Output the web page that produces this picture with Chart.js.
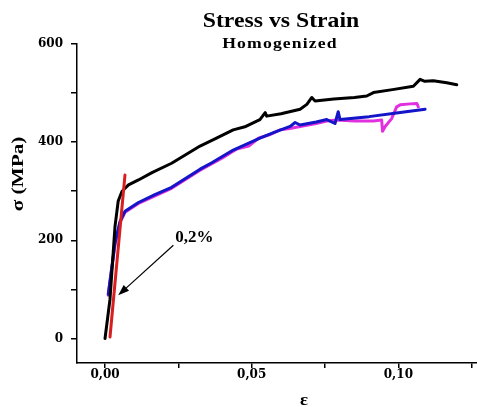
<!DOCTYPE html>
<html>
<head>
<meta charset="utf-8">
<title>Stress vs Strain</title>
<script src="https://cdn.jsdelivr.net/npm/chart.js@4.4.1/dist/chart.umd.min.js"></script>
<style>
    html, body { margin: 0; padding: 0; background: #fff; }
    #stressStrainChart { display: block; }
</style>
</head>
<body>
<canvas id="stressStrainChart" width="477" height="407"></canvas>
<script>
// Curves: strain (ε) and stress (σ, MPa)
const blackStrain = [0, 0.0017, 0.0034, 0.0045, 0.0058, 0.0080, 0.0114, 0.0160, 0.0227, 0.0324, 0.0380, 0.0437, 0.0480, 0.0528, 0.0546, 0.0551, 0.0600, 0.0665, 0.0688, 0.0705, 0.0716, 0.0780, 0.0850, 0.0892, 0.0915, 0.0980, 0.1051, 0.1074, 0.1090, 0.1119, 0.1165, 0.1199];
const blackStress = [0, 80, 228, 280, 300, 313, 323, 338, 357, 392, 408, 425, 432, 446, 460, 453, 458, 467, 477, 491, 484, 488, 491, 494, 501, 507, 514, 528, 524, 525, 521, 517];

const blueStrain = [0.0011, 0.0034, 0.0051, 0.0068, 0.0114, 0.0170, 0.0227, 0.0324, 0.0364, 0.0437, 0.0528, 0.0585, 0.0631, 0.0648, 0.0665, 0.0720, 0.0756, 0.0784, 0.0795, 0.0801, 0.0900, 0.1000, 0.1091];
const blueStress = [90, 194, 238, 259, 277, 293, 308, 345, 358, 384, 408, 422, 432, 440, 435, 441, 446, 438, 462, 446, 452, 460, 467];

const magentaStrain = [0.0011, 0.0034, 0.0051, 0.0068, 0.0114, 0.0227, 0.0324, 0.0400, 0.0449, 0.0490, 0.0523, 0.0560, 0.0597, 0.0630, 0.0665, 0.0720, 0.0756, 0.0790, 0.0850, 0.0915, 0.0943, 0.0946, 0.0955, 0.0977, 0.0994, 0.1006, 0.1040, 0.1063, 0.1068];
const magentaStress = [88, 192, 236, 257, 275, 306, 343, 368, 386, 392, 408, 415, 425, 428, 432, 438, 443, 445, 443, 443, 445, 422, 432, 448, 472, 476, 478, 479, 472];

// 0.2% offset line
const offsetStrain = [0.0017, 0.0068];
const offsetStress = [3, 333];

// Axis ticks and labels
const xTickValues = [0, 0.025, 0.05, 0.075, 0.10, 0.125];
const xTickLabels = ['0,00', '', '0,05', '', '0,10', ''];
const yTickValues = [0, 100, 200, 300, 400, 500, 600];
const yTickLabels = ['0', '', '200', '', '400', '', '600'];

const chartTitle = 'Stress vs Strain';
const chartSubtitle = 'Homogenized';
const xAxisTitle = 'ε';
const yAxisTitle = 'σ (MPa)';
const offsetNote = '0,2%';

const toPoints = (xs, ys) => xs.map((x, i) => ({ x: x, y: ys[i] }));

const serif = '"Liberation Serif", "Times New Roman", serif';
const tickFont = { family: '"DejaVu Serif", serif', size: 12, weight: 'bold' };

// Draw text squeezed/stretched horizontally (the original figure is widened)
function stretchedText(ctx, text, x, y, sx, align) {
    ctx.save();
    ctx.translate(x, y);
    ctx.scale(sx, 1);
    ctx.textAlign = align;
    ctx.fillText(text, 0, 0);
    ctx.restore();
}

const textPlugin = {
    id: 'figureText',
    afterDraw: function(chart) {
        const ctx = chart.ctx;
        const xs = chart.scales.x;
        const ys = chart.scales.y;
        ctx.save();
        ctx.fillStyle = '#000';
        ctx.textBaseline = 'alphabetic';

        // Titles
        ctx.font = 'bold 21px ' + serif;
        stretchedText(ctx, chartTitle, 281, 27, 1.13, 'center');
        ctx.font = 'bold 15.5px ' + serif;
        ctx.letterSpacing = '1px';
        stretchedText(ctx, chartSubtitle, 280, 47.5, 1.14, 'center');
        ctx.letterSpacing = '0px';

        // Axis titles
        ctx.font = 'bold 17px ' + serif;
        stretchedText(ctx, xAxisTitle, 304, 405, 1.1, 'center');
        ctx.save();
        ctx.translate(19, 174);
        ctx.rotate(-Math.PI / 2);
        ctx.scale(1.25, 1);
        ctx.textAlign = 'center';
        ctx.textBaseline = 'middle';
        ctx.fillText(yAxisTitle, 0, 0);
        ctx.restore();

        // 0,2% note with arrow
        ctx.font = 'bold 17px ' + serif;
        ctx.textAlign = 'left';
        ctx.fillText(offsetNote, xs.getPixelForValue(0.0239), ys.getPixelForValue(197));

        const tx = xs.getPixelForValue(0.0233), ty = ys.getPixelForValue(190);
        const hx = xs.getPixelForValue(0.0045), hy = ys.getPixelForValue(88);
        const ang = Math.atan2(hy - ty, hx - tx);
        ctx.strokeStyle = '#000';
        ctx.lineWidth = 1.2;
        ctx.beginPath();
        ctx.moveTo(tx, ty);
        ctx.lineTo(hx - 8 * Math.cos(ang), hy - 8 * Math.sin(ang));
        ctx.stroke();
        ctx.beginPath();
        ctx.moveTo(hx, hy);
        ctx.lineTo(hx - 11 * Math.cos(ang) + 4 * Math.sin(ang), hy - 11 * Math.sin(ang) - 4 * Math.cos(ang));
        ctx.lineTo(hx - 11 * Math.cos(ang) - 4 * Math.sin(ang), hy - 11 * Math.sin(ang) + 4 * Math.cos(ang));
        ctx.closePath();
        ctx.fill();
        ctx.restore();
    }
};

const lineStyle = {
    showLine: true,
    pointRadius: 0,
    borderWidth: 3,
    tension: 0,
    borderJoinStyle: 'round',
    borderCapStyle: 'round',
    fill: false
};

new Chart(document.getElementById('stressStrainChart').getContext('2d'), {
    type: 'scatter',
    data: {
        datasets: [
            { ...lineStyle, label: '0,2%', data: toPoints(offsetStrain, offsetStress), borderColor: '#d81e1e' },
            { ...lineStyle, label: 'A', data: toPoints(blackStrain, blackStress), borderColor: '#000000' },
            { ...lineStyle, label: 'B', data: toPoints(blueStrain, blueStress), borderColor: '#1414c8' },
            { ...lineStyle, label: 'C', data: toPoints(magentaStrain, magentaStress), borderColor: '#e030e0' }
        ]
    },
    options: {
        responsive: false,
        animation: false,
        layout: { padding: { left: 0, top: 44, right: 0, bottom: 0 } },
        plugins: {
            legend: { display: false },
            tooltip: { enabled: false },
            title: { display: false }
        },
        scales: {
            x: {
                type: 'linear',
                min: -0.00955,
                max: 0.1268,
                afterBuildTicks: axis => { axis.ticks = xTickValues.map(v => ({ value: v })); },
                afterFit: axis => { axis.height = 44; },
                ticks: {
                    autoSkip: false,
                    maxRotation: 0,
                    padding: 0,
                    color: '#000',
                    font: tickFont,
                    callback: (value, index) => xTickLabels[index]
                },
                grid: { drawOnChartArea: false, drawTicks: true, tickLength: 5, color: '#000', lineWidth: 1.5 },
                border: { display: true, color: '#000', width: 1.5 }
            },
            y: {
                type: 'linear',
                min: -50,
                max: 600,
                afterBuildTicks: axis => { axis.ticks = yTickValues.map(v => ({ value: v })); },
                afterFit: axis => { axis.width = 77; },
                ticks: {
                    autoSkip: false,
                    padding: 8,
                    color: '#000',
                    font: tickFont,
                    callback: (value, index) => yTickLabels[index]
                },
                grid: { drawOnChartArea: false, drawTicks: true, tickLength: 6, color: '#000', lineWidth: 1.5 },
                border: { display: true, color: '#000', width: 1.5 }
            }
        }
    },
    plugins: [textPlugin]
});
</script>
</body>
</html>
